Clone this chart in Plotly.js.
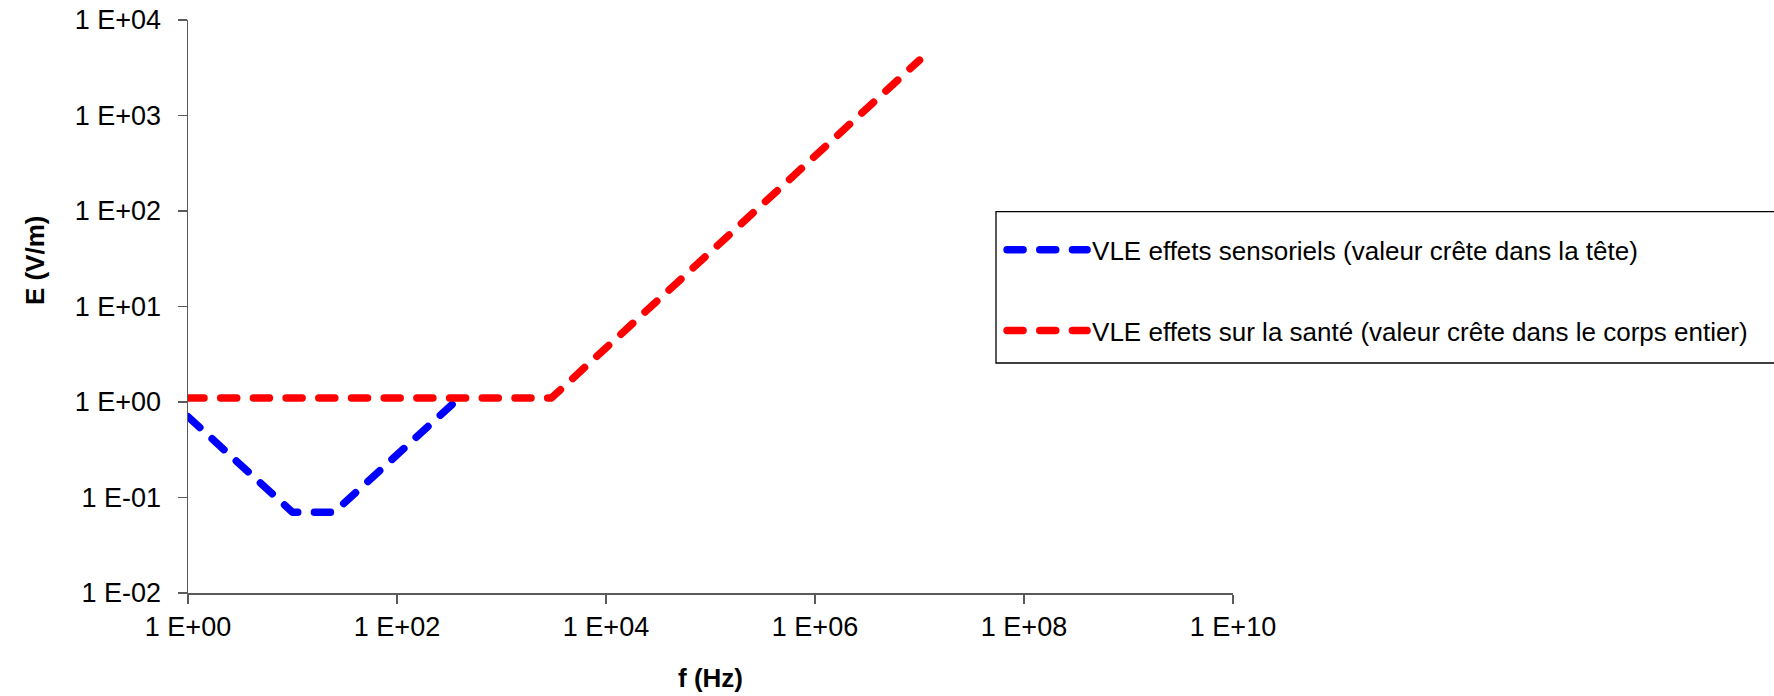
<!DOCTYPE html>
<html>
<head>
<meta charset="utf-8">
<script src="https://cdn.plot.ly/plotly-3.0.1.min.js"></script>
<style>
  html, body { margin: 0; padding: 0; background: #fff; }
  #chart { width: 1774px; height: 696px; }
  .js-line, .legendlines path { stroke-linecap: round; stroke-linejoin: round; }
</style>
</head>
<body>
<div id="chart"></div>
<script>
// Data
const sensoryFreq = [1, 10, 25, 340];
const sensoryE = [0.7, 0.07, 0.07, 0.95];
const healthFreq = [1, 3000, 10000000];
const healthE = [1.1, 1.1, 3800];

const sensoryName = "VLE effets sensoriels (valeur crête dans la tête)";
const healthName = "VLE effets sur la santé (valeur crête dans le corps entier)";

const xTickVals = [1, 1e2, 1e4, 1e6, 1e8, 1e10];
const xTickText = ["1 E+00", "1 E+02", "1 E+04", "1 E+06", "1 E+08", "1 E+10"];
const yTickVals = [1e-2, 1e-1, 1, 1e1, 1e2, 1e3, 1e4];
const yTickText = ["1 E-02", "1 E-01", "1 E+00", "1 E+01", "1 E+02", "1 E+03", "1 E+04"];

const dashStyle = "16px,16.7px";
const FONT = "Liberation Sans, Arial, sans-serif";

const traces = [
  {
    x: sensoryFreq, y: sensoryE, name: sensoryName, mode: "lines",
    legendgroup: "a",
    line: { color: "#0000FF", width: 7.5, dash: dashStyle }
  },
  {
    x: healthFreq, y: healthE, name: healthName, mode: "lines",
    legendgroup: "b",
    line: { color: "#FF0000", width: 7.5, dash: dashStyle }
  }
];

const axisColor = "#5a5a5a";
const layout = {
  width: 1774, height: 696,
  margin: { l: 188, r: 541, t: 20, b: 103 },
  paper_bgcolor: "#ffffff", plot_bgcolor: "#ffffff",
  font: { family: FONT, size: 26, color: "#000" },
  showlegend: true,
  xaxis: {
    type: "log", range: [0, 10], autorange: false,
    tickvals: xTickVals, ticktext: xTickText,
    ticks: "outside", ticklen: 9, tickwidth: 1.5, tickcolor: axisColor,
    showline: true, linecolor: axisColor, linewidth: 1.5,
    showgrid: false, zeroline: false,
    tickfont: { family: FONT, size: 27, color: "#000" },
    title: { text: "<b>f (Hz)</b>", font: { family: FONT, size: 26, color: "#000" }, standoff: 28 },
    automargin: false
  },
  yaxis: {
    type: "log", range: [-2, 4], autorange: false,
    tickvals: yTickVals, ticktext: yTickText,
    ticks: "outside", ticklen: 9, tickwidth: 1.5, tickcolor: axisColor,
    showline: true, linecolor: axisColor, linewidth: 1.5,
    showgrid: false, zeroline: false,
    tickfont: { family: FONT, size: 27, color: "#000" },
    ticklabelstandoff: 11,
    automargin: false
  },
  legend: {
    x: 0.779, xanchor: "left", y: 0.64, yanchor: "top",
    bgcolor: "rgba(0,0,0,0)", borderwidth: 0,
    font: { family: FONT, size: 26, color: "#000" },
    tracegroupgap: 44, itemwidth: 80
  },
  shapes: [
    {
      type: "rect", xref: "paper", yref: "paper",
      x0: 0.7732, x1: 1.6, y0: 0.4014, y1: 0.6656,
      line: { color: "#000", width: 1.3 }, fillcolor: "rgba(0,0,0,0)", layer: "below"
    }
  ],
  annotations: [
    {
      text: "<b>E (V/m)</b>", xref: "paper", yref: "paper",
      x: -0.1464, y: 0.581, xanchor: "center", yanchor: "middle",
      textangle: -90, showarrow: false,
      font: { family: FONT, size: 26, color: "#000" }
    }
  ]
};

Plotly.newPlot("chart", traces, layout, { displayModeBar: false, staticPlot: true });
</script>
</body>
</html>
